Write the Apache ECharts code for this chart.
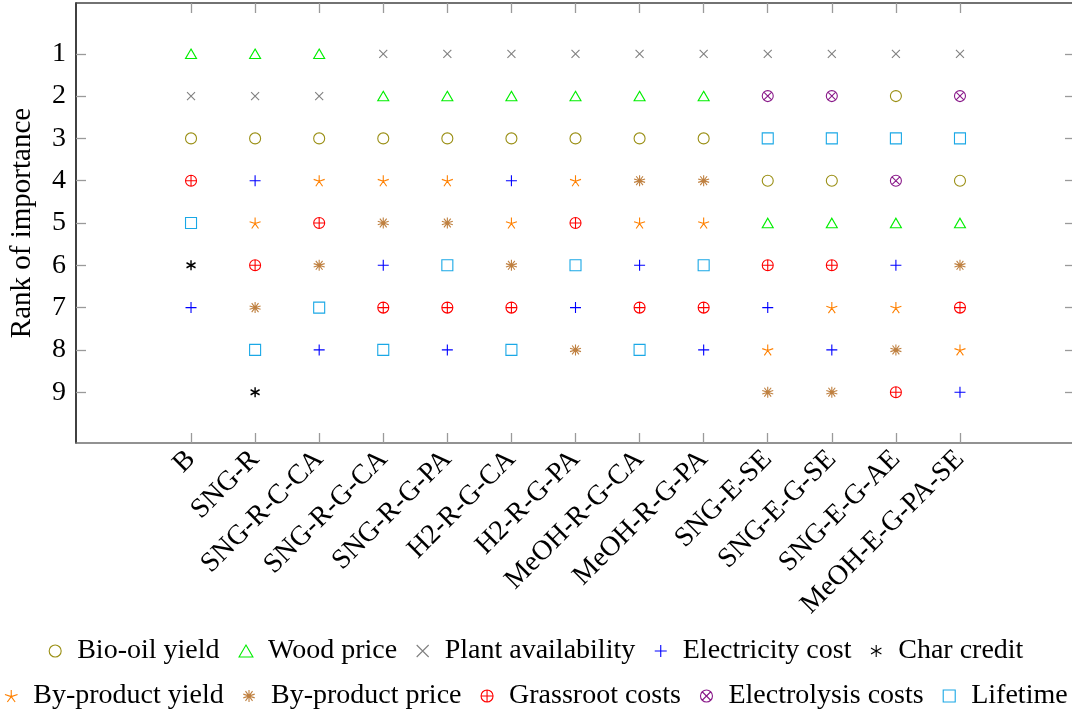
<!DOCTYPE html>
<html>
<head>
<meta charset="utf-8">
<script src="https://cdn.jsdelivr.net/npm/echarts@6/dist/echarts.min.js"></script>
<style>
  html, body { margin: 0; padding: 0; background: #fff; }
  #chart { width: 1072px; height: 713px; }
</style>
</head>
<body>
<div id="chart"></div>
<script>
// Process configurations on the x axis
const categories = ['B', 'SNG-R', 'SNG-R-C-CA', 'SNG-R-G-CA', 'SNG-R-G-PA', 'H2-R-G-CA', 'H2-R-G-PA',
  'MeOH-R-G-CA', 'MeOH-R-G-PA', 'SNG-E-SE', 'SNG-E-G-SE', 'SNG-E-G-AE', 'MeOH-E-G-PA-SE'];
const categoryTicks = [0, 1, 2, 3, 4, 5, 6, 7, 8, 9, 10, 11, 12];
const rankTicks = [1, 2, 3, 4, 5, 6, 7, 8, 9];

// Rank of each parameter per configuration (null = not ranked)
const bioOilYield       = [3, 3, 3, 3, 3, 3, 3, 3, 3, 4, 4, 2, 4];
const woodPrice         = [1, 1, 1, 2, 2, 2, 2, 2, 2, 5, 5, 5, 5];
const plantAvailability = [2, 2, 2, 1, 1, 1, 1, 1, 1, 1, 1, 1, 1];
const electricityCost   = [7, 4, 8, 6, 8, 4, 7, 6, 8, 7, 8, 6, 9];
const charCredit        = [6, 9, null, null, null, null, null, null, null, null, null, null, null];
const byProductYield    = [null, 5, 4, 4, 4, 5, 4, 5, 5, 8, 7, 7, 8];
const byProductPrice    = [null, 7, 6, 5, 5, 6, 8, 4, 4, 9, 9, 8, 6];
const grassrootCosts    = [4, 6, 5, 7, 7, 7, 5, 7, 7, 6, 6, 9, 7];
const electrolysisCosts = [null, null, null, null, null, null, null, null, null, 2, 2, 4, 2];
const lifetime          = [5, 8, 7, 8, 6, 8, 6, 8, 6, 3, 3, 3, 3];

const FONT = 'Liberation Serif';
const FONT_SIZE = 28;

// Marker shapes (stroked outlines)
const marks = {
  circle:   { symbol: 'circle', size: 11 },
  triangle: { symbol: 'path://M5,0L10,8.66L0,8.66Z', size: [11, 9.5] },
  cross:    { symbol: 'path://M0,0L10,10M10,0L0,10', size: 8 },
  plus:     { symbol: 'path://M5,0L5,10M0,5L10,5', size: 11 },
  asterisk: { symbol: 'path://M5,0L5,10M0.67,2.5L9.33,7.5M0.67,7.5L9.33,2.5', size: [9, 10], width: 1.5 },
  star:     { symbol: 'path://M5,5L5,0M5,5L9.755,3.455M5,5L7.939,9.045M5,5L2.061,9.045M5,5L0.245,3.455', size: 11 },
  burst:    { symbol: 'path://M5,0L5,10M2.061,9.045L7.939,0.955M0.245,6.545L9.755,3.455M0.245,3.455L9.755,6.545M2.061,0.955L7.939,9.045M6.3,5A1.3,1.3 0 1,1 3.7,5A1.3,1.3 0 1,1 6.3,5Z', size: 11, filled: true },
  oplus:    { symbol: 'path://M0,5A5,5 0 1,1 10,5A5,5 0 1,1 0,5ZM5,0L5,10M0,5L10,5', size: 11 },
  otimes:   { symbol: 'path://M0,5A5,5 0 1,1 10,5A5,5 0 1,1 0,5ZM1.464,1.464L8.536,8.536M8.536,1.464L1.464,8.536', size: 11 },
  square:   { symbol: 'path://M0,0L10,0L10,10L0,10Z', size: 11 }
};

const seriesDefs = [
  { name: 'Bio-oil yield',       values: bioOilYield,       color: '#9a8f14', mark: 'circle' },
  { name: 'Wood price',          values: woodPrice,         color: '#00ee00', mark: 'triangle' },
  { name: 'Plant availability',  values: plantAvailability, color: '#808080', mark: 'cross' },
  { name: 'Electricity cost',    values: electricityCost,   color: '#0000ff', mark: 'plus' },
  { name: 'Char credit',         values: charCredit,        color: '#000000', mark: 'asterisk' },
  { name: 'By-product yield',    values: byProductYield,    color: '#ff8000', mark: 'star' },
  { name: 'By-product price',    values: byProductPrice,    color: '#bf8040', mark: 'burst' },
  { name: 'Grassroot costs',     values: grassrootCosts,    color: '#ff0000', mark: 'oplus' },
  { name: 'Electrolysis costs',  values: electrolysisCosts, color: '#8a1a8a', mark: 'otimes' },
  { name: 'Lifetime',            values: lifetime,          color: '#1aa8e6', mark: 'square' }
];

const series = seriesDefs.map(d => {
  const m = marks[d.mark];
  const data = [];
  d.values.forEach((v, i) => { if (v !== null) data.push([i, v]); });
  return {
    type: 'scatter',
    name: d.name,
    data: data,
    symbol: m.symbol,
    symbolSize: m.size,
    symbolKeepAspect: false,
    itemStyle: {
      color: m.filled ? d.color : 'rgba(0,0,0,0)',
      borderColor: d.color,
      borderWidth: m.width || 1.1,
      opacity: 1
    },
    emphasis: { disabled: true }
  };
});

const legendBase = {
  left: 'center',
  width: 1300,
  padding: 0,
  itemWidth: 34,
  itemHeight: 12,
  itemGap: 19,
  selectedMode: false,
  itemStyle: { borderWidth: 1.1 },
  textStyle: { fontFamily: FONT, fontSize: FONT_SIZE, color: '#000' }
};

const tickStyle = { color: '#9a9a9a', width: 1.3 };

const option = {
  animation: false,
  backgroundColor: '#fff',
  textStyle: { fontFamily: FONT },
  grid: { left: 76, top: 3, width: 999, height: 440, containLabel: false, outerBoundsMode: 'none' },
  xAxis: [
    {
      type: 'value', min: -1.795, max: 13.795, position: 'bottom',
      splitLine: { show: false },
      axisLine: { show: true, onZero: false, lineStyle: { color: '#6f6f6f', width: 1.6 } },
      axisTick: { show: true, inside: true, length: 10, customValues: categoryTicks, lineStyle: tickStyle },
      axisLabel: {
        customValues: categoryTicks, rotate: 45, margin: 12,
        formatter: v => categories[v],
        fontFamily: FONT, fontSize: FONT_SIZE, color: '#000'
      }
    },
    {
      type: 'value', min: -1.795, max: 13.795, position: 'top',
      splitLine: { show: false },
      axisLine: { show: true, onZero: false, lineStyle: { color: '#444', width: 1.6 } },
      axisTick: { show: true, inside: true, length: 10, customValues: categoryTicks, lineStyle: tickStyle },
      axisLabel: { show: false }
    }
  ],
  yAxis: [
    {
      type: 'value', inverse: true, min: -0.2, max: 10.2, position: 'left',
      name: 'Rank of importance', nameLocation: 'middle', nameGap: 39, nameRotate: 90,
      nameTextStyle: { fontFamily: FONT, fontSize: 29, color: '#000' },
      splitLine: { show: false },
      axisLine: { show: true, onZero: false, lineStyle: { color: '#111', width: 1.6 } },
      axisTick: { show: true, inside: true, length: 10, customValues: rankTicks, lineStyle: tickStyle },
      axisLabel: { customValues: rankTicks, margin: 10, fontFamily: FONT, fontSize: FONT_SIZE, color: '#000' }
    },
    {
      type: 'value', inverse: true, min: -0.2, max: 10.2, position: 'right',
      splitLine: { show: false },
      axisLine: { show: true, onZero: false, lineStyle: { color: '#444', width: 1.6 } },
      axisTick: { show: true, inside: true, length: 10, customValues: rankTicks, lineStyle: tickStyle },
      axisLabel: { show: false }
    }
  ],
  legend: [
    Object.assign({}, legendBase, { top: 637, data: seriesDefs.slice(0, 5).map(d => d.name) }),
    Object.assign({}, legendBase, { top: 682, data: seriesDefs.slice(5).map(d => d.name) })
  ],
  series: series
};

const chart = echarts.init(document.getElementById('chart'), null, { renderer: 'canvas' });
chart.setOption(option);
</script>
</body>
</html>
